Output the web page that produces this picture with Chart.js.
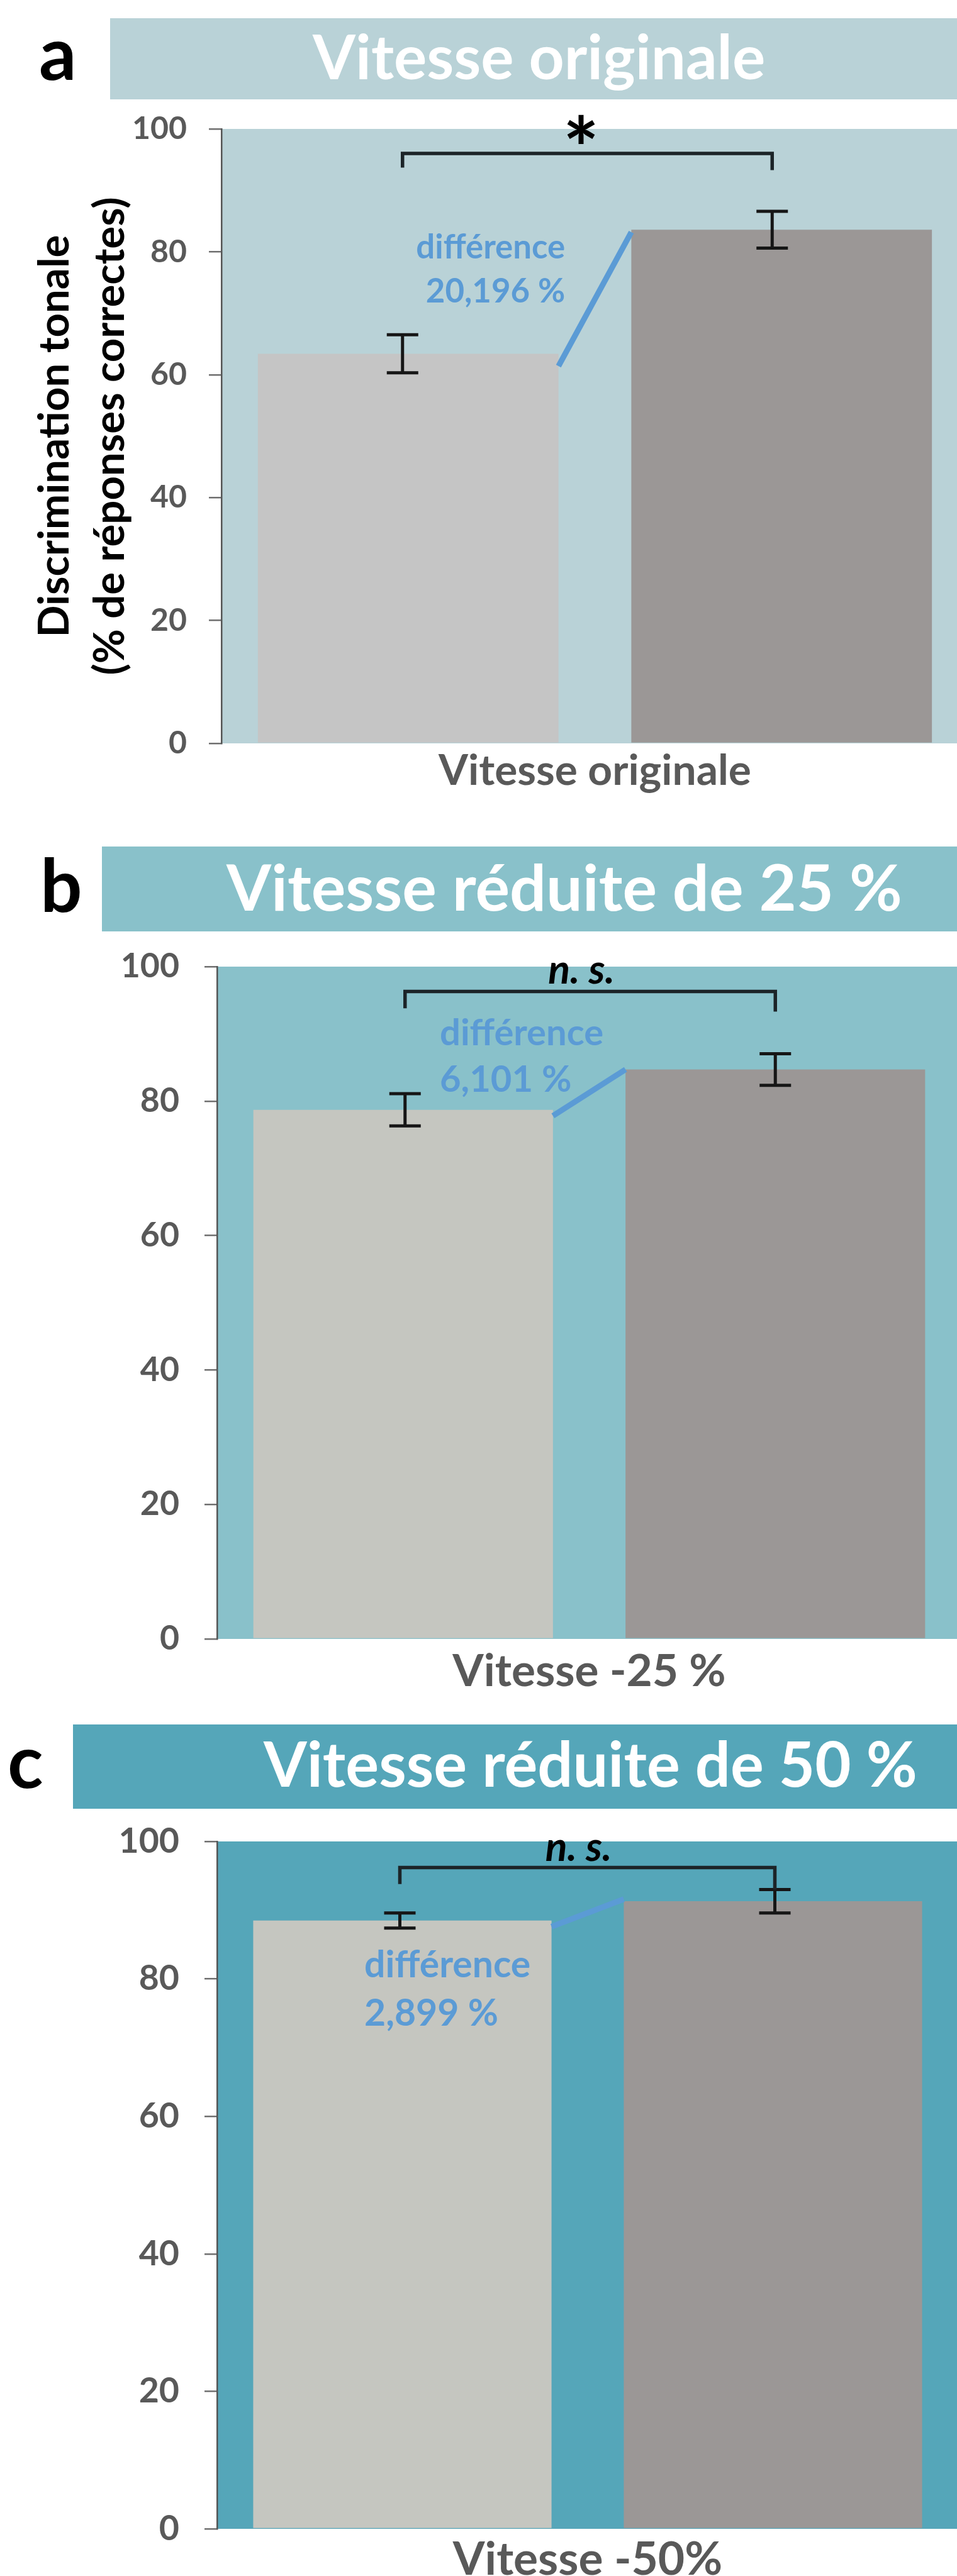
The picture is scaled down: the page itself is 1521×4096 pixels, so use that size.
<!DOCTYPE html>
<html lang="fr">
<head>
<meta charset="utf-8">
<title>Discrimination tonale</title>
<script src="https://cdn.jsdelivr.net/npm/chart.js@4.4.1/dist/chart.umd.min.js"></script>
<style>
  html, body { margin: 0; padding: 0; background: #fff; overflow: hidden; }
  #page { position: relative; width: 1521px; height: 4096px; overflow: hidden; }
  .panel { position: absolute; left: 0; }
</style>
</head>
<body>
<div id="page">
  <div class="panel" id="pa"><canvas id="ca"></canvas></div>
  <div class="panel" id="pb"><canvas id="cb"></canvas></div>
  <div class="panel" id="pc"><canvas id="cc"></canvas></div>
</div>
<script>
// ---- data ----
const panelLetters = ['a', 'b', 'c'];
const panelTitles  = ['Vitesse originale', 'Vitesse réduite de 25 %', 'Vitesse réduite de 50 %'];
const categories   = ['Vitesse originale', 'Vitesse -25 %', 'Vitesse -50%'];
const yTicks       = [0, 20, 40, 60, 80, 100];
const yTitle       = ['Discrimination tonale', '(% de réponses correctes)'];
const lightValues  = [63.4, 78.7, 88.5];
const darkValues   = [83.6, 84.7, 91.3];
const lightErrors  = [3.1, 2.4, 1.1];
const darkErrors   = [3.0, 2.35, 1.7];
const sigLabels    = ['*', 'n. s.', 'n. s.'];
const bracketTop   = [96.0, 96.3, 96.2];
const bracketLeft  = [93.7, 93.8, 93.8];
const bracketRight = [93.3, 93.3, 93.0];
const linkFrom     = [61.4, 77.8, 87.6];
const linkTo       = [83.2, 84.7, 91.6];
const diffLabels   = [['différence', '20,196 %'], ['différence', '6,101 %'], ['différence', '2,899 %']];

// ---- layout (px in the 1521 wide page) ----
const layouts = [
  { top: 0, w: 1539, h: 1282, left: 352, padTop: 205, bg: '#b9d2d7', light: '#c5c5c5',
    banner: [175, 29, 158], title: [496, 126, 718], letter: [64, 127],
    tickW: 83, tickPad: 35, xW: 496, xPad: 10, errDx: [-9, -15], sigY: 100,
    diff: { x: 897, align: 'right', y: [78.9, 71.8], w: 234 } },
  { top: 1300, w: 1528, h: 1406, left: 345, padTop: 237, bg: '#89c1ca', light: '#c5c6c0',
    banner: [162, 46, 181], title: [359, 148, 1072], letter: [71, 150],
    tickW: 89, tickPad: 40, xW: 433, xPad: 16, errDx: [3, 0], sigY: 99.0,
    diff: { x: 701, align: 'left', y: [88.3, 81.4], w: 257 } },
  { top: 2700, w: 1523, h: 1421, left: 345, padTop: 228, bg: '#55a6b9', light: '#c5c6c0',
    banner: [116, 42, 176], title: [418, 141, 1037], letter: [15, 143],
    tickW: 92, tickPad: 40, xW: 427, xPad: 13, errDx: [-4, 3], sigY: 98.7,
    diff: { x: 581, align: 'left', y: [80.2, 73.2], w: 261 } }
];

const meas = document.createElement('canvas').getContext('2d');
function metrics(text, style, size) {
  meas.font = `${style} ${size}px Lato`;
  return meas.measureText(text);
}
function fitInk(text, style, target) {
  const m = metrics(text, style, 100);
  return 100 * target / (m.actualBoundingBoxLeft + m.actualBoundingBoxRight);
}
function fitHeight(text, style, target) {
  const m = metrics(text, style, 100);
  return 100 * target / (m.actualBoundingBoxAscent + m.actualBoundingBoxDescent);
}
const letterSize = fitHeight('b', 'bold', 88);

function errBar(ctx, x, y0, y1, cap) {
  ctx.beginPath();
  ctx.moveTo(x, y0); ctx.lineTo(x, y1);
  ctx.moveTo(x - cap / 2, y0); ctx.lineTo(x + cap / 2, y0);
  ctx.moveTo(x - cap / 2, y1); ctx.lineTo(x + cap / 2, y1);
  ctx.stroke();
}

const panelDeco = {
  id: 'panelDeco',
  beforeDraw(chart, args, o) {
    const { ctx, chartArea: ca } = chart;
    const L = o.layout;
    ctx.save();
    ctx.fillStyle = L.bg;
    ctx.fillRect(ca.left, ca.top, chart.width - ca.left, ca.bottom - ca.top);
    const [bx, by0, by1] = L.banner;
    ctx.fillRect(bx, by0, chart.width - bx, by1 - by0);

    ctx.textAlign = 'left';
    ctx.textBaseline = 'alphabetic';
    ctx.font = `bold ${fitInk(o.title, 'bold', L.title[2])}px Lato`;
    ctx.fillStyle = '#fff';
    let m = ctx.measureText(o.title);
    ctx.fillText(o.title, L.title[0] + m.actualBoundingBoxLeft, L.title[1]);

    ctx.font = `bold ${letterSize}px Lato`;
    ctx.fillStyle = '#000';
    m = ctx.measureText(o.letter);
    ctx.fillText(o.letter, L.letter[0] + m.actualBoundingBoxLeft, L.letter[1]);
    ctx.restore();
  },
  afterDatasetsDraw(chart, args, o) {
    const { ctx } = chart;
    const i = o.index, L = o.layout;
    const ys = chart.scales.y;
    const lb = chart.getDatasetMeta(0).data[0];
    const db = chart.getDatasetMeta(1).data[0];
    const xl = lb.x + L.errDx[0], xr = db.x + L.errDx[1];
    ctx.save();

    // link between the two bars
    ctx.strokeStyle = '#5b9bd5';
    ctx.lineWidth = 9;
    ctx.beginPath();
    ctx.moveTo(lb.x + lb.width / 2, ys.getPixelForValue(linkFrom[i]));
    ctx.lineTo(db.x - db.width / 2, ys.getPixelForValue(linkTo[i]));
    ctx.stroke();

    // error bars
    ctx.strokeStyle = '#161616';
    ctx.lineWidth = 5;
    errBar(ctx, xl, ys.getPixelForValue(lightValues[i] + lightErrors[i]),
           ys.getPixelForValue(lightValues[i] - lightErrors[i]), 50);
    errBar(ctx, xr, ys.getPixelForValue(darkValues[i] + darkErrors[i]),
           ys.getPixelForValue(darkValues[i] - darkErrors[i]), 50);

    // significance bracket
    const yT = ys.getPixelForValue(bracketTop[i]);
    ctx.strokeStyle = '#1c2428';
    ctx.lineWidth = 5.5;
    ctx.beginPath();
    ctx.moveTo(xl, ys.getPixelForValue(bracketLeft[i]));
    ctx.lineTo(xl, yT);
    ctx.lineTo(xr, yT);
    ctx.lineTo(xr, ys.getPixelForValue(bracketRight[i]));
    ctx.stroke();

    const sig = sigLabels[i];
    const cx = (xl + xr) / 2 + (sig === '*' ? -10 : -14);
    const style = sig === '*' ? 'bold' : 'italic bold';
    const size = sig === '*' ? fitHeight(sig, style, 46) : fitInk(sig, style, 100);
    ctx.font = `${style} ${size}px Lato`;
    ctx.fillStyle = '#000';
    ctx.textAlign = 'center';
    ctx.textBaseline = 'alphabetic';
    let m = ctx.measureText(sig);
    ctx.fillText(sig, cx, ys.getPixelForValue(L.sigY) + (m.actualBoundingBoxAscent - m.actualBoundingBoxDescent) / 2);

    // difference label
    ctx.font = `bold ${fitInk('différence', 'bold', L.diff.w)}px Lato`;
    ctx.fillStyle = '#5b9bd5';
    ctx.textAlign = 'left';
    diffLabels[i].forEach((t, k) => {
      m = ctx.measureText(t);
      const x = L.diff.align === 'right' ? L.diff.x - m.actualBoundingBoxRight
                                          : L.diff.x + m.actualBoundingBoxLeft;
      ctx.fillText(t, x, ys.getPixelForValue(L.diff.y[k]));
    });
    ctx.restore();
  }
};

const yTitleSize = fitInk(yTitle[0], 'bold', 633);

layouts.forEach((L, i) => {
  const box = document.getElementById('p' + panelLetters[i]);
  box.style.top = L.top + 'px';
  box.style.width = L.w + 'px';
  box.style.height = L.h + 'px';

  new Chart(document.getElementById('c' + panelLetters[i]), {
    type: 'bar',
    data: {
      labels: [categories[i]],
      datasets: [
        { data: [lightValues[i]], backgroundColor: L.light },
        { data: [darkValues[i]], backgroundColor: '#9b9796' }
      ]
    },
    options: {
      responsive: true,
      maintainAspectRatio: false,
      animation: false,
      devicePixelRatio: 1,
      layout: { padding: { top: L.padTop, left: 0, right: 0, bottom: 0 } },
      datasets: { bar: { categoryPercentage: 1, barPercentage: 0.805, borderWidth: 0 } },
      plugins: {
        legend: { display: false },
        tooltip: { enabled: false },
        panelDeco: { index: i, layout: L, title: panelTitles[i], letter: panelLetters[i] }
      },
      scales: {
        x: {
          grid: { display: false, drawTicks: false },
          border: { display: false },
          ticks: {
            color: '#595959', padding: L.xPad,
            font: { family: 'Lato', weight: 'bold', size: fitInk(categories[i], 'bold', L.xW), lineHeight: 1 }
          },
          afterFit(s) { s.height = 100; }
        },
        y: {
          min: 0, max: 100,
          afterBuildTicks(s) { s.ticks = yTicks.map(v => ({ value: v })); },
          grid: { drawOnChartArea: false, drawTicks: true, tickLength: 20, color: '#6f6f6f', lineWidth: 2.5 },
          border: { display: true, color: '#555', width: 2.5 },
          ticks: {
            color: '#595959', padding: L.tickPad,
            font: { family: 'Lato', weight: 'bold', size: fitInk('100', 'bold', L.tickW) }
          },
          title: {
            display: i === 0, text: yTitle, color: '#000',
            padding: { top: 44, bottom: 0 },
            font: { family: 'Lato', weight: 'bold', size: yTitleSize, lineHeight: 1.3 }
          },
          afterFit(s) { s.width = L.left; }
        }
      }
    },
    plugins: [panelDeco]
  });
});
</script>
</body>
</html>
